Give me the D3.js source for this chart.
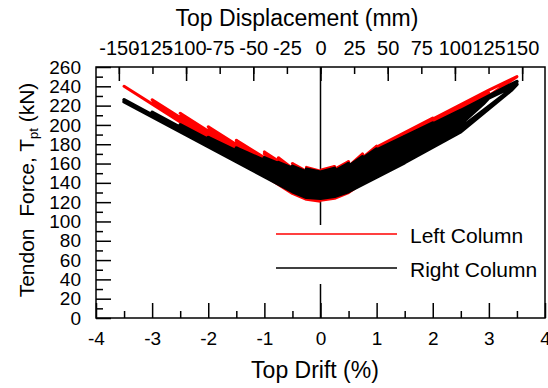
<!doctype html>
<html lang="en">
<head>
  <meta charset="utf-8">
  <title>Tendon Force vs Top Drift</title>
  <style>
    body { margin: 0; background: #fff; }
    svg { display: block; font-family: "Liberation Sans", Arial, sans-serif; }
  </style>
</head>
<body>
<svg id="chart" width="548" height="388"></svg>

<script src="https://cdn.jsdelivr.net/npm/d3@7"></script>
<script type="text/javascript">
// tick labels
const driftTicks = [-4, -3, -2, -1, 0, 1, 2, 3, 4];
const driftMinor = [-3.5, -2.5, -1.5, -0.5, 0.5, 1.5, 2.5, 3.5];
const forceTicks = [0, 20, 40, 60, 80, 100, 120, 140, 160, 180, 200, 220, 240, 260];
const forceMinor = [10, 30, 50, 70, 90, 110, 130, 150, 170, 190, 210, 230, 250];
const dispTicks = [-150, -125, -100, -75, -50, -25, 0, 25, 50, 75, 100, 125, 150];
const dispMajor = [-150, -100, -50, 0, 50, 100, 150];

const seriesNames = ['Left Column', 'Right Column'];

// [top drift %, tendon force kN], one array per loading cycle
const leftColumn = [
  [[0,153],[0.25,157],[0,152],[-0.25,156],[0,152]],
  [[0,152],[0.25,154],[0.5,162],[0.25,152],[0,150],[-0.25,152],[-0.5,160],[-0.25,151],[0,149]],
  [[0,149],[0.25,151],[0.5,157],[0.75,170],[0.5,155],[0.25,149],[0,147],[-0.25,149],[-0.5,155],[-0.75,166],[-0.5,154],[-0.25,148],[0,146]],
  [[0,146],[0.25,148],[0.5,154],[1,178],[0.5,153],[0.25,147],[0,145],[-0.25,147],[-0.5,153],[-1,172],[-0.5,152],[-0.25,146],[0,144]],
  [[0,144],[0.25,146],[0.5,152],[1,176],[0.5,151],[0.25,145],[0,143],[-0.25,145],[-0.5,151],[-1,170],[-0.5,150],[-0.25,144],[0,142]],
  [[0,142],[0.25,144],[0.5,150],[1,177],[1.5,192],[0.5,148],[0.25,142],[0,140],[-0.25,142],[-0.5,148],[-1.5,184],[-0.5,147],[-0.25,141],[0,139]],
  [[0,139],[0.25,141],[0.5,147],[1,175],[1.5,190],[0.5,146],[0.25,140],[0,138],[-0.25,140],[-0.5,146],[-1.5,182],[-0.5,145],[-0.25,139],[0,137]],
  [[0,137],[0.25,139],[0.5,145],[1.5,192],[2,207],[0.5,143],[0.25,137],[0,135],[-0.25,137],[-0.5,143],[-2,198],[-0.5,142],[-0.25,136],[0,134]],
  [[0,134],[0.25,136],[0.5,142],[1.5,189],[2,204],[0.5,141],[0.25,135],[0,133],[-0.25,135],[-0.5,141],[-2,195],[-0.5,140],[-0.25,134],[0,132]],
  [[0,132],[0.25,134],[0.5,140],[2,206],[2.5,221],[0.5,138],[0.25,132],[0,130],[-0.25,132],[-0.5,138],[-2.5,212],[-0.5,137],[-0.25,131],[0,129]],
  [[0,129],[0.25,131],[0.5,137],[2,203],[2.5,218],[0.5,136],[0.25,130],[0,128],[-0.25,130],[-0.5,136],[-2.5,209],[-0.5,135],[-0.25,129],[0,127]],
  [[0,127],[0.25,129],[0.5,135],[2.5,221],[3,236],[0.5,134],[0.25,128],[0,126],[-0.25,128],[-0.5,134],[-3,226],[-0.5,133],[-0.25,127],[0,125]],
  [[0,125],[0.25,127],[0.5,133],[2.5,218],[3,233],[0.5,132],[0.25,126],[0,124],[-0.25,126],[-0.5,132],[-3,223],[-0.5,131],[-0.25,125],[0,123]],
  [[0,123],[0.25,125],[0.5,131],[3,236],[3.5,250],[0.5,130],[0.25,124],[0,122],[-0.25,124],[-0.5,130],[-3.5,240],[-0.5,129],[-0.25,123],[0,121]]
];

const rightColumn = [
  [[0,151],[0.25,155],[0,151],[-0.25,154],[0,150]],
  [[0,150],[0.25,152],[0.5,160],[0.25,151],[0,149],[-0.25,151],[-0.5,157],[-0.25,151],[0,149]],
  [[0,149],[0.25,151],[0.5,157],[0.75,167],[0.5,155],[0.25,149],[0,147],[-0.25,149],[-0.5,155],[-0.75,161],[-0.5,155],[-0.25,149],[0,147]],
  [[0,147],[0.25,149],[0.5,155],[1,175],[0.5,154],[0.25,148],[0,146],[-0.25,148],[-0.5,154],[-1,166],[-0.5,153],[-0.25,147],[0,145]],
  [[0,145],[0.25,147],[0.5,153],[1,173],[0.5,152],[0.25,146],[0,144],[-0.25,146],[-0.5,152],[-1,165],[-0.5,152],[-0.25,146],[0,144]],
  [[0,144],[0.25,146],[0.5,152],[1,174],[1.5,188],[1.4,183],[0.5,150],[0.25,144],[0,142],[-0.25,144],[-0.5,150],[-1.5,176],[-0.5,149],[-0.25,143],[0,141]],
  [[0,141],[0.25,143],[0.5,149],[1,172],[1.5,186],[1.4,181],[0.5,148],[0.25,142],[0,140],[-0.25,142],[-0.5,148],[-1.5,174],[-0.5,147],[-0.25,141],[0,139]],
  [[0,139],[0.25,141],[0.5,147],[1.5,188],[2,202],[1.9,197],[0.5,145],[0.25,139],[0,137],[-0.25,139],[-0.5,145],[-2,187],[-0.5,144],[-0.25,138],[0,136]],
  [[0,136],[0.25,138],[0.5,144],[1.5,185],[2,199],[1.9,194],[0.5,142],[0.25,136],[0,134],[-0.25,136],[-0.5,142],[-2,185],[-0.5,141],[-0.25,135],[0,133]],
  [[0,133],[0.25,135],[0.5,141],[2,201],[2.5,215],[2.4,209],[1.5,175],[0.5,139],[0.25,133],[0,131],[-0.25,133],[-0.5,139],[-2.5,200],[-0.5,138],[-0.25,132],[0,130]],
  [[0,130],[0.25,132],[0.5,138],[2,199],[2.5,213],[2.4,207],[1.5,172],[0.5,137],[0.25,131],[0,129],[-0.25,131],[-0.5,137],[-2.5,198],[-0.5,136],[-0.25,130],[0,128]],
  [[0,128],[0.25,130],[0.5,136],[2.5,215],[3,230],[2.9,224],[2.5,205],[1.5,169],[0.5,135],[0.25,129],[0,127],[-0.25,129],[-0.5,135],[-3,213],[-0.5,134],[-0.25,128],[0,126]],
  [[0,126],[0.25,128],[0.5,134],[2.5,213],[3,228],[2.9,222],[2.5,201],[1.5,166],[0.5,133],[0.25,127],[0,125],[-0.25,127],[-0.5,133],[-3,211],[-0.5,133],[-0.25,127],[0,125]],
  [[0,125],[0.25,127],[0.5,133],[3,230],[3.5,245],[3.4,237],[2.5,197],[1.5,164],[0.5,132],[0.25,126],[0,124],[-0.25,126],[-0.5,132],[-3.5,226],[-0.5,132],[-0.25,126],[0,124]],
  [[0,124],[0.25,126],[0.5,132],[3,228],[3.5,242],[3.4,236],[2.5,193],[1.5,161],[0.5,131],[0.25,126],[0,124],[-0.25,126],[-0.5,132],[-3.5,224],[-0.5,131],[-0.25,125],[0,124]]
];

const chart = d3.select('#chart');
const margin = { top: 67, right: 3, bottom: 70, left: 96 };
const W = 548, H = 388;

const x = d3.scaleLinear().domain([-4, 4]).range([margin.left, W - margin.right]);
const y = d3.scaleLinear().domain([0, 260]).range([H - margin.bottom, margin.top]);
const xTop = d3.scaleLinear().domain([-167, 167]).range([margin.left, W - margin.right]);

chart.append('rect').attr('width', W).attr('height', H).attr('fill', '#fff');

// zero drift line
chart.append('line')
  .attr('x1', x(0)).attr('x2', x(0))
  .attr('y1', y(260)).attr('y2', y(0))
  .attr('stroke', '#000').attr('stroke-width', 1.5);

const line = d3.line()
  .x(d => x(d[0]))
  .y(d => y(d[1]));

chart.append('path')
  .datum(leftColumn.flat())
  .attr('fill', 'none')
  .attr('stroke', '#ff0000')
  .attr('stroke-width', 3)
  .attr('stroke-linejoin', 'round')
  .attr('d', line);

chart.append('path')
  .datum(rightColumn.flat())
  .attr('fill', 'none')
  .attr('stroke', '#000')
  .attr('stroke-width', 3.5)
  .attr('stroke-linejoin', 'round')
  .attr('d', line);

// axes
const fmt = d => String(d);
function styleAxis(g, size) {
  g.select('.domain').remove();
  g.selectAll('line').attr('stroke', '#000').attr('stroke-width', 1.5);
  g.selectAll('text').attr('fill', '#000').style('font-size', size + 'px');
}

chart.append('g')
  .attr('transform', `translate(0 ${y(0)})`)
  .call(d3.axisBottom(x).tickValues(driftMinor).tickSize(-7).tickFormat(''))
  .call(g => styleAxis(g, 19));
chart.append('g')
  .attr('transform', `translate(0 ${y(0)})`)
  .call(d3.axisBottom(x).tickValues(driftTicks).tickSize(-15).tickPadding(14).tickFormat(fmt))
  .call(g => styleAxis(g, 19));

chart.append('g')
  .attr('transform', `translate(${x(-4)} 0)`)
  .call(d3.axisLeft(y).tickValues(forceMinor).tickSize(-7).tickFormat(''))
  .call(g => styleAxis(g, 19));
chart.append('g')
  .attr('transform', `translate(${x(-4)} 0)`)
  .call(d3.axisLeft(y).tickValues(forceTicks).tickSize(-15).tickPadding(15).tickFormat(fmt))
  .call(g => styleAxis(g, 19));

chart.append('g')
  .attr('transform', `translate(0 ${y(260)})`)
  .call(d3.axisTop(xTop).tickValues(dispMajor).tickSize(-14).tickFormat(''))
  .call(g => styleAxis(g, 20));
chart.append('g')
  .attr('transform', `translate(0 ${y(260)})`)
  .call(d3.axisTop(xTop).tickValues(dispTicks).tickSize(-7).tickPadding(12).tickFormat(fmt))
  .call(g => styleAxis(g, 20));

// frame
chart.append('rect')
  .attr('x', x(-4)).attr('y', y(260))
  .attr('width', x(4) - x(-4)).attr('height', y(0) - y(260))
  .attr('fill', 'none').attr('stroke', '#000').attr('stroke-width', 1.5);

// titles
chart.append('text')
  .attr('x', 297).attr('y', 26)
  .attr('text-anchor', 'middle')
  .style('font-size', '23px')
  .text('Top Displacement (mm)');

chart.append('text')
  .attr('x', 315).attr('y', 378)
  .attr('text-anchor', 'middle')
  .style('font-size', '23px')
  .text('Top Drift (%)');

const yTitle = chart.append('text')
  .attr('transform', 'translate(34 190) rotate(-90)')
  .attr('text-anchor', 'middle')
  .style('font-size', '21px');
yTitle.append('tspan').text('Tendon\u00a0\u00a0Force, T');
yTitle.append('tspan').attr('dy', 4).style('font-size', '13px').text('pt');
yTitle.append('tspan').attr('dy', -4).text(' (kN)');

// legend
const legend = chart.append('g');
legend.append('rect')
  .attr('x', 268).attr('y', 225).attr('width', 272).attr('height', 59)
  .attr('fill', '#fff');
const legendColors = ['#ff0000', '#000'];
seriesNames.forEach((name, i) => {
  const ly = 234 + i * 34;
  legend.append('line')
    .attr('x1', 276).attr('x2', 397)
    .attr('y1', ly).attr('y2', ly)
    .attr('stroke', legendColors[i]).attr('stroke-width', 1.5);
  legend.append('text')
    .attr('x', 410).attr('y', ly + 8.5)
    .style('font-size', '21px')
    .text(name);
});
</script>
</body>
</html>
